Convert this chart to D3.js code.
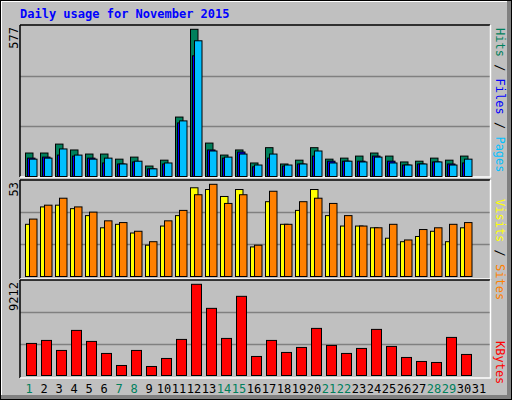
<!DOCTYPE html>
<html><head><meta charset="utf-8">
<script src="https://cdn.jsdelivr.net/npm/d3@7"></script>
<style>body{margin:0;background:#fff}svg{display:block}text{font-family:"DejaVu Sans Mono",monospace}</style>
</head><body><svg id="c" width="512" height="400"></svg>
<script>
const days = d3.range(1,32);
const weekends = [1,7,8,14,15,21,22,28,29];
const hits  = [92,92,127,104,88,88,68,76,41,64,233,577,131,84,104,53,113,49,64,113,68,72,80,92,80,57,60,72,64,80,0];
const files = [72,76,84,80,72,53,49,57,30,49,210,473,104,72,96,38,72,41,49,80,60,60,60,80,60,45,49,57,49,53,0];
const pages = [68,72,108,84,68,72,49,60,30,53,218,532,100,76,88,45,88,45,49,100,53,60,57,76,53,45,49,57,45,68,0];
const sites = [30,40,41,39,35,28,30,25,18,29,35,51,50,46,50,17,43,30,38,50,35,29,29,28,22,20,23,26,20,28,0];
const visits= [33,41,45,40,37,32,31,26,20,32,38,47,53,42,47,18,49,30,43,45,42,35,29,28,30,21,27,28,30,31,0];
const kbytes= [3239,3543,2531,4555,3442,2227,1012,2531,911,1721,3644,9212,6782,3745,7997,1923,3543,2328,2834,4758,3037,2227,2733,4657,2936,1822,1417,1316,3847,2126,0];
const maxLabels = ["577","53","9212"];

const svg = d3.select("#c");
svg.append("rect").attr("width",512).attr("height",400).attr("fill","#c0c0c0");
// 3D frame
svg.append("rect").attr("x",507).attr("y",0).attr("width",5).attr("height",400).attr("fill","#808080");
svg.append("rect").attr("x",0).attr("y",395).attr("width",512).attr("height",5).attr("fill","#808080");
svg.append("line").attr("x1",1).attr("y1",1).attr("x2",507).attr("y2",1).attr("stroke","#fff").attr("stroke-width",2);
svg.append("line").attr("x1",1).attr("y1",1).attr("x2",1).attr("y2",395).attr("stroke","#fff").attr("stroke-width",2);
svg.append("rect").attr("x",0.5).attr("y",0.5).attr("width",511).attr("height",399).attr("fill","none").attr("stroke","#000");

svg.append("text").attr("x",20).attr("y",18).attr("fill","#0000ff").attr("font-weight","bold").attr("font-size",12).text("Daily usage for November 2015");

const x = d3.scaleBand().domain(days).range([21,486]).paddingInner(0).paddingOuter(0);
const panels = [
  {top:25,bot:177,max:577,base:176.5,ytop:29.3},
  {top:180,bot:279,max:53,base:276.5,ytop:184.3},
  {top:280,bot:378,max:9212,base:375.5,ytop:284.3}
];
panels.forEach(p=>{
  p.y = d3.scaleLinear().domain([0,p.max]).range([p.base,p.ytop]);
  const h = p.bot-p.top;
  [1/3,2/3].forEach(f=>{
    const gy = Math.round(p.base-(p.base-p.top)*f)+0.5;
    svg.append("line").attr("x1",20).attr("x2",490).attr("y1",gy).attr("y2",gy).attr("stroke","#808080").attr("stroke-width",1.5);
  });
  svg.append("line").attr("x1",20).attr("x2",490).attr("y1",p.top).attr("y2",p.top).attr("stroke","#000").attr("stroke-width",1.5);
  svg.append("line").attr("x1",20).attr("x2",20).attr("y1",p.top).attr("y2",p.bot).attr("stroke","#000").attr("stroke-width",1.5);
  svg.append("line").attr("x1",490.5).attr("x2",490.5).attr("y1",p.top).attr("y2",p.bot).attr("stroke","#fff").attr("stroke-width",1.5);
  svg.append("line").attr("x1",20).attr("x2",491).attr("y1",p.bot).attr("y2",p.bot).attr("stroke","#fff").attr("stroke-width",1.5);
});
function bars(data,p,off,w,color){
  svg.append("g").selectAll("rect").data(data.map((v,i)=>({d:days[i],v})).filter(o=>o.v>0)).join("rect")
    .attr("x",o=>x(o.d)+off).attr("width",w)
    .attr("y",o=>p.y(o.v)).attr("height",o=>p.base-p.y(o.v))
    .attr("fill",color).attr("stroke","#000").attr("stroke-width",1);
}
bars(hits,panels[0],4.5,7.5,"#00805c");
bars(files,panels[0],6.5,7.5,"#0000ff");
bars(pages,panels[0],8.5,7.5,"#00c0ff");
bars(sites,panels[1],4.5,7.5,"#ffff00");
bars(visits,panels[1],8.5,7.5,"#ff8000");
bars(kbytes,panels[2],5.5,10,"#ff0000");

svg.append("g").selectAll("text").data(days).join("text")
  .attr("x",d=>x(d)+x.bandwidth()/2+0.5).attr("y",393).attr("text-anchor","middle").attr("font-size",12)
  .attr("fill",d=>weekends.includes(d)?"#00805c":"#000").text(d=>d);

// left max labels
[[27,0],[182,1],[282,2]].forEach(([y,i])=>{
  svg.append("text").attr("transform",`translate(18,${y}) rotate(-90)`).attr("text-anchor","end")
    .attr("font-size",12).attr("fill","#000").text(maxLabels[i]);
});
// right labels
function rlabel(y,parts){
  const t = svg.append("text").attr("transform",`translate(496,${y}) rotate(90)`).attr("font-size",12);
  parts.forEach(([s,c])=>t.append("tspan").attr("fill",c).text(s));
}
rlabel(28,[["Hits","#00805c"],[" / ","#000"],["Files","#0000ff"],[" / ","#000"],["Pages","#00c0ff"]]);
rlabel(199,[["Visits","#ffff00"],[" / ","#000"],["Sites","#ff8000"]]);
rlabel(341,[["KBytes","#ff0000"]]);
</script></body></html>
